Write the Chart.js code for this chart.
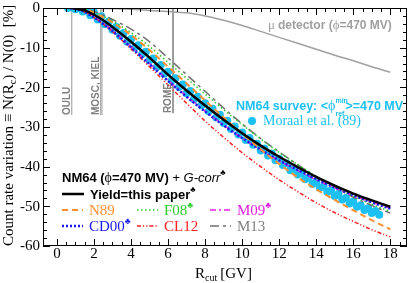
<!DOCTYPE html>
<html>
<head>
<meta charset="utf-8">
<script src="https://cdn.jsdelivr.net/npm/chart.js@4.4.0/dist/chart.umd.min.js"></script>
<style>
html, body { margin: 0; padding: 0; background: #fff; }
#c { display: block; }
</style>
</head>
<body>
<canvas id="c" width="415" height="283"></canvas>
<script>
// cutoff rigidity grid [GV] shared by all yield curves
var rCut = [0.7, 1, 1.5, 2, 2.5, 3, 4, 5, 6, 7, 8, 9, 10, 11, 12, 13, 14, 15, 16, 17, 18];

// count rate variation [%] per yield function
var yieldThis = [0, -0.1, -0.6, -1.7, -3.1, -4.8, -8.5, -12.5, -16.8, -20.8, -24.6, -28.2, -31.6, -34.7, -37.5, -40.1, -42.6, -44.8, -46.8, -48.5, -50.1];
var n89  = [0, 0, -0.4, -1.2, -2.3, -3.6, -6.8, -10.6, -14.8, -19.0, -23.3, -27.6, -31.7, -35.6, -39.3, -42.7, -45.7, -48.4, -51.0, -53.5, -55.8];
var cd00 = [0, -0.2, -1.0, -2.4, -4.0, -5.8, -9.9, -14.2, -18.4, -22.4, -26.1, -29.6, -32.8, -35.7, -38.4, -40.8, -43.1, -45.2, -47.2, -49.0, -50.6];
var f08  = [0, 0, -0.4, -1.1, -2.1, -3.3, -6.2, -9.7, -13.7, -17.7, -21.7, -25.6, -29.4, -33.0, -36.4, -39.5, -42.4, -45.0, -47.4, -49.5, -51.3];
var cl12 = [0, -0.2, -1.0, -2.4, -4.1, -6.0, -10.3, -14.8, -19.4, -24.0, -28.5, -32.6, -36.5, -40.0, -43.3, -46.3, -49.1, -51.6, -53.8, -55.9, -57.7];
var m09  = [0, -0.2, -0.9, -2.2, -3.8, -5.6, -9.7, -14.0, -18.2, -22.2, -26.0, -29.5, -32.8, -35.8, -38.5, -41.0, -43.3, -45.4, -47.3, -49.0, -50.5];
var m13  = [0, 0, -0.3, -0.9, -1.8, -2.9, -5.3, -8.5, -12.6, -16.8, -21.0, -25.2, -29.2, -32.9, -36.3, -39.5, -42.5, -45.2, -47.7, -49.8, -51.7];

// muon detector curve
var muR = [0.7, 2, 4, 5, 6, 7, 8, 9, 10, 11, 12, 13, 14, 15, 16, 17, 18];
var muV = [0, -0.05, -0.3, -0.6, -0.9, -1.2, -2.0, -3.1, -4.4, -5.9, -7.4, -8.9, -10.4, -11.9, -13.3, -14.8, -16.2];

// NM64 survey, Moraal et al. (89)
var moraalR = [0.6, 0.8, 1.0, 1.2, 1.4, 1.6, 1.8, 2.0, 2.2, 2.4, 2.6, 2.8, 3.0, 3.2, 3.4, 3.6, 3.8, 4.0, 4.2, 4.4, 4.6, 4.8, 5.0, 5.2, 5.4, 5.6, 5.8, 6.0, 6.2, 6.4, 6.6, 6.8, 7.0, 7.2, 7.4, 7.6, 7.8, 8.0, 8.2, 8.4, 8.6, 8.8, 9.0, 9.2, 9.4, 9.6, 9.8, 10.0, 10.2, 10.4, 10.6, 10.8, 11.0, 11.2, 11.4, 11.6, 11.8, 12.0, 12.2, 12.4, 12.6, 12.8, 13.0, 13.2, 13.4, 13.6, 13.8, 14.0, 14.2, 14.4, 14.6, 14.8, 15.0, 15.2, 15.4, 15.6, 15.8, 16.0, 16.2, 16.4, 16.6, 16.8, 17.0, 17.2, 17.4];
var moraalV = [0, 0.2, -0.3, 0, -0.9, -0.3, -1.8, -1.1, -2.9, -2.1, -4.1, -3.4, -5.5, -4.8, -7.0, -6.3, -8.5, -7.8, -10.0, -9.4, -11.6, -11.0, -13.2, -12.7, -14.9, -14.4, -16.6, -16.1, -18.3, -17.7, -19.9, -19.3, -21.5, -20.9, -23.0, -22.4, -24.5, -24.0, -26.0, -25.4, -27.6, -26.9, -29.0, -28.4, -30.5, -29.9, -31.9, -31.4, -33.3, -32.8, -34.5, -34.2, -35.9, -35.4, -37.2, -36.7, -38.4, -38.0, -39.6, -39.2, -40.9, -40.5, -42.0, -41.6, -43.2, -42.8, -44.4, -43.9, -45.3, -45.0, -46.4, -46.0, -47.4, -46.9, -48.3, -47.9, -49.3, -48.8, -50.1, -49.7, -50.9, -50.5, -51.7, -51.2, -52.1];

// stations: name, cutoff [GV], line bottom [%]
var stationNames = ['OULU', 'MOSC, KIEL', 'ROME'];
var stationR = [0.8, 2.4, 6.27];
var stationLow = [-27, -27, -26.5];

var xTickVals = [0, 2, 4, 6, 8, 10, 12, 14, 16, 18];
var yTickVals = [-60, -50, -40, -30, -20, -10, 0];

var CYAN = '#1cc0f2';
var SERIF = '"Liberation Serif", "Times New Roman", serif';
var SANS = '"Liberation Sans", Arial, sans-serif';

function pts(xs, ys) {
    return xs.map(function (x, i) { return { x: x, y: ys[i] }; });
}

var curves = [
    { label: 'Yield=this paper', v: yieldThis, color: '#000', width: 2.5, dash: [] },
    { label: 'N89', v: n89, color: '#ff9030', width: 2, dash: [6, 4] },
    { label: 'CD00', v: cd00, color: '#1a1aee', width: 2.5, dash: [2, 2] },
    { label: 'F08', v: f08, color: '#2ccc2c', width: 1.5, dash: [1.5, 2.5] },
    { label: 'CL12', v: cl12, color: '#ff2020', width: 1.5, dash: [4, 2, 1.2, 2, 1.2, 2] },
    { label: 'M09', v: m09, color: '#e020e0', width: 1.5, dash: [6, 3, 2, 3] },
    { label: 'M13', v: m13, color: '#707070', width: 1.5, dash: [9, 4, 3, 4] }
];

var datasets = [];
curves.forEach(function (c, i) {
    datasets.push({
        label: c.label,
        data: pts(rCut, c.v),
        showLine: true,
        borderColor: c.color,
        borderWidth: c.width,
        borderDash: c.dash,
        pointRadius: 0,
        cubicInterpolationMode: 'monotone',
        order: i === 0 ? 0 : i + 1
    });
});
datasets.push({
    label: 'Moraal',
    data: pts(moraalR, moraalV),
    showLine: false,
    pointRadius: 4,
    pointBackgroundColor: CYAN,
    pointBorderWidth: 0,
    order: 20
});
datasets.push({
    label: 'mu',
    data: pts(muR, muV),
    showLine: true,
    borderColor: '#a0a0a0',
    borderWidth: 1.5,
    pointRadius: 0,
    cubicInterpolationMode: 'monotone',
    order: 21
});
stationR.forEach(function (r, i) {
    var rs = i === 1 ? [2.36, 2.43] : [r];
    rs.forEach(function (x) {
        datasets.push({
            label: stationNames[i],
            data: [{ x: x, y: 0 }, { x: x, y: stationLow[i] }],
            showLine: true,
            borderColor: i === 2 ? '#909090' : '#b0b0b0',
            borderWidth: i === 2 ? 1 : 1.3,
            pointRadius: 0,
            order: 22
        });
    });
});

function drawParts(ctx, x, y, parts) {
    parts.forEach(function (p) {
        ctx.font = p.f;
        ctx.fillStyle = p.c;
        ctx.fillText(p.t, x, y + (p.dy || 0));
        if (!p.stay) x += ctx.measureText(p.t).width + (p.gap || 0);
    });
    return x;
}

function sample(ctx, x1, x2, y, c) {
    ctx.save();
    ctx.strokeStyle = c.color;
    ctx.lineWidth = c.width;
    ctx.setLineDash(c.dash);
    ctx.beginPath();
    ctx.moveTo(x1, y);
    ctx.lineTo(x2, y);
    ctx.stroke();
    ctx.restore();
}

var decorPlugin = {
    id: 'decor',
    afterDraw: function (chart) {
        var ctx = chart.ctx, a = chart.chartArea;
        var xs = chart.scales.x, ys = chart.scales.y;
        ctx.save();

        // frame and inward ticks on all four sides
        ctx.strokeStyle = '#000';
        ctx.lineWidth = 1;
        ctx.setLineDash([]);
        ctx.strokeRect(a.left + 0.5, a.top + 0.5, a.right - a.left - 1, a.bottom - a.top - 1);
        ctx.beginPath();
        for (var v = 0; v <= 18.5; v += 0.5) {
            var px = Math.round(xs.getPixelForValue(v)) + 0.5;
            var len = v % 2 === 0 ? 7 : 4;
            ctx.moveTo(px, a.bottom); ctx.lineTo(px, a.bottom - len);
            ctx.moveTo(px, a.top); ctx.lineTo(px, a.top + len);
        }
        for (var w = -60; w <= 0; w += 2) {
            var py = Math.round(ys.getPixelForValue(w)) + 0.5;
            var l2 = w % 10 === 0 ? 7 : 4;
            ctx.moveTo(a.left, py); ctx.lineTo(a.left + l2, py);
            ctx.moveTo(a.right, py); ctx.lineTo(a.right - l2, py);
        }
        ctx.stroke();

        // tick labels
        ctx.fillStyle = '#000';
        ctx.font = '15px ' + SERIF;
        ctx.textBaseline = 'middle';
        ctx.textAlign = 'right';
        yTickVals.forEach(function (t) {
            ctx.fillText(t === 0 ? '0' : '-' + Math.abs(t), 40, ys.getPixelForValue(t) + 0.5);
        });
        ctx.textAlign = 'center';
        xTickVals.forEach(function (t) {
            ctx.fillText(String(t), xs.getPixelForValue(t), 254);
        });

        // station labels (vertical)
        ctx.textBaseline = 'alphabetic';
        stationR.forEach(function (r, i) {
            var px = xs.getPixelForValue(r) - 2;
            var py = ys.getPixelForValue(stationLow[i]);
            ctx.save();
            ctx.translate(px, py);
            ctx.rotate(-Math.PI / 2);
            ctx.font = 'bold 10px ' + SANS;
            ctx.fillStyle = '#808080';
            ctx.textAlign = 'left';
            ctx.fillText(stationNames[i], 0, 0);
            ctx.restore();
        });

        ctx.textAlign = 'left';
        // mu detector label
        drawParts(ctx, 268, 29, [
            { t: '\u03bc', f: '13px ' + SERIF, c: '#a0a0a0', gap: 3 },
            { t: 'detector (', f: 'bold 12px ' + SANS, c: '#a0a0a0' },
            { t: '\u03d5', f: '13px ' + SERIF, c: '#a0a0a0' },
            { t: '=470 MV)', f: 'bold 12px ' + SANS, c: '#a0a0a0' }
        ]);

        // survey label
        var x = drawParts(ctx, 236, 110, [
            { t: 'NM64 survey: <', f: 'bold 12.5px ' + SANS, c: CYAN },
            { t: '\u03d5', f: '14px ' + SERIF, c: CYAN }
        ]);
        x = drawParts(ctx, x, 110, [
            { t: 'min', f: 'bold 7px ' + SANS, c: CYAN, dy: -7, stay: true },
            { t: 'ref', f: 'bold 7px ' + SANS, c: CYAN, dy: 6 }
        ]);
        drawParts(ctx, x + 1, 110, [
            { t: '>=470 MV', f: 'bold 12.5px ' + SANS, c: CYAN }
        ]);
        ctx.fillStyle = CYAN;
        ctx.beginPath();
        ctx.arc(252, 121, 4, 0, Math.PI * 2);
        ctx.fill();
        drawParts(ctx, 263, 125, [
            { t: 'Moraal et al. (89)', f: '14px ' + SERIF, c: CYAN }
        ]);

        // legend
        drawParts(ctx, 62, 182, [
            { t: 'NM64 (', f: 'bold 13px ' + SANS, c: '#000' },
            { t: '\u03d5', f: '14px ' + SERIF, c: '#000' },
            { t: '=470 MV) ', f: 'bold 13px ' + SANS, c: '#000' },
            { t: '+ G-corr', f: 'italic 13px ' + SANS, c: '#000' },
            { t: '\u2663', f: '8px ' + SANS, c: '#000', dy: -7 }
        ]);
        sample(ctx, 62, 84, 194, curves[0]);
        drawParts(ctx, 90, 199, [
            { t: 'Yield=this paper', f: 'bold 13px ' + SANS, c: '#000' },
            { t: '\u2663', f: '8px ' + SANS, c: '#000', dy: -7 }
        ]);
        var cols = [62, 137, 210];
        var rows = [210, 226];
        var grid = [[1, 3, 5], [2, 4, 6]];
        var club = { 'CD00': 1, 'F08': 1, 'M09': 1 };
        grid.forEach(function (row, ri) {
            row.forEach(function (ci, k) {
                var c = curves[ci];
                sample(ctx, cols[k], cols[k] + 21, rows[ri], c);
                var parts = [{ t: c.label, f: '15px ' + SERIF, c: c.color === '#707070' ? '#808080' : c.color }];
                if (club[c.label]) parts.push({ t: '\u2663', f: '9px ' + SANS, c: c.color, dy: -7 });
                drawParts(ctx, cols[k] + 27, rows[ri] + 5, parts);
            });
        });

        // axis titles
        drawParts(ctx, 195, 278, [
            { t: 'R', f: '15px ' + SERIF, c: '#000' },
            { t: 'cut', f: '10px ' + SERIF, c: '#000', dy: 3, gap: 3 },
            { t: '[GV]', f: '15px ' + SERIF, c: '#000' }
        ]);
        ctx.save();
        ctx.translate(13, 246);
        ctx.rotate(-Math.PI / 2);
        drawParts(ctx, 0, 0, [
            { t: 'Count rate variation \u2261 N(R', f: '15px ' + SERIF, c: '#000' },
            { t: 'c', f: '10px ' + SERIF, c: '#000', dy: 3 },
            { t: ') / N(0)  [%]', f: '15px ' + SERIF, c: '#000' }
        ]);
        ctx.restore();

        ctx.restore();
    }
};

new Chart(document.getElementById('c'), {
    type: 'scatter',
    data: { datasets: datasets },
    options: {
        responsive: false,
        animation: false,
        devicePixelRatio: 1,
        layout: { padding: { top: 8, right: 8, left: 0, bottom: 0 } },
        plugins: { legend: { display: false }, tooltip: { enabled: false } },
        scales: {
            x: {
                type: 'linear',
                min: -0.75,
                max: 18.9,
                grid: { display: false },
                border: { display: false },
                ticks: { display: false },
                afterBuildTicks: function (s) { s.ticks = xTickVals.map(function (v) { return { value: v }; }); },
                afterFit: function (s) { s.height = 37; }
            },
            y: {
                min: -60,
                max: 0,
                grid: { display: false },
                border: { display: false },
                ticks: { display: false },
                afterBuildTicks: function (s) { s.ticks = yTickVals.map(function (v) { return { value: v }; }); },
                afterFit: function (s) { s.width = 43; }
            }
        }
    },
    plugins: [decorPlugin]
});
</script>
</body>
</html>
